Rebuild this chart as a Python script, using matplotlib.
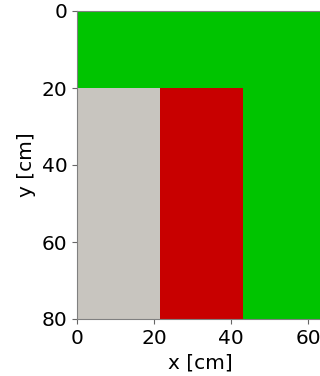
import numpy as np
import matplotlib
matplotlib.use('Agg')
from matplotlib import pyplot as plt
from matplotlib.colors import ListedColormap

# границы областей (см)
x_edges = [0, 21.5, 43, 64]
y_edges = [0, 20, 80]
# номера материалов в каждой клетке: 0 - серый, 1 - красный, 2 - зелёный
materials = [[2, 2, 2],
             [0, 1, 2]]
material_colors = ['#c8c5bf', '#c80000', '#00c400']

fig = plt.figure(figsize=(3.2, 3.76), dpi=100)
ax = fig.add_axes([77 / 320, 57 / 376, 246 / 320, 308 / 376])

cmap = ListedColormap(material_colors)
ax.pcolormesh(x_edges, y_edges, np.array(materials), cmap=cmap, vmin=-0.5, vmax=2.5)

ax.set_xlim(0, 63.9)
ax.set_ylim(80, 0)
ax.set_xticks([0, 20, 40, 60])
ax.set_yticks([0, 20, 40, 60, 80])
ax.set_xlabel('x [cm]', fontsize=14.5)
ax.set_ylabel('y [cm]', fontsize=14.5)
ax.tick_params(labelsize=14.5, color='0.4')
for s in ax.spines.values():
    s.set_color('0.5')

plt.savefig('out.png', dpi=100)
